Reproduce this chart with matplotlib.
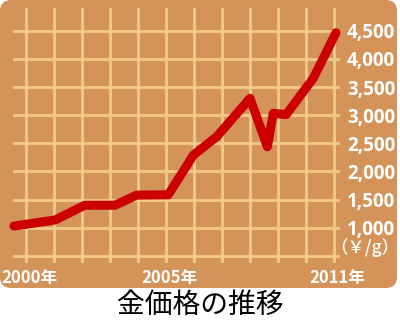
import matplotlib
matplotlib.use("Agg")
import matplotlib.pyplot as plt
from matplotlib.patches import FancyBboxPatch
from matplotlib.transforms import ScaledTranslation

# gold price (yen per gram)
years = [1999.57, 2001.04, 2002.10, 2003.18, 2003.95, 2005.08, 2005.98,
         2006.81, 2008.00, 2008.62, 2008.83, 2009.29, 2010.26, 2011.07]
prices = [1030, 1137, 1400, 1400, 1580, 1585, 2292,
          2617, 3299, 2439, 3033, 3010, 3655, 4465]

grid_years = list(range(2000, 2012))
year_labels = {2000: "2000年", 2005: "2005年", 2011: "2011年"}
price_ticks = [500, 1000, 1500, 2000, 2500, 3000, 3500, 4000, 4500]
title = "金価格の推移"
unit = "（￥/g）"

BG = "#D49459"
GRID = "#F2CB8A"
RED = "#CC0000"

fig = plt.figure(figsize=(4.0, 3.22), dpi=100)

panel = FancyBboxPatch((0.0, 0.34), 3.97, 2.88,
                       boxstyle="round,pad=0,rounding_size=0.11",
                       transform=fig.dpi_scale_trans, facecolor=BG,
                       edgecolor="none", zorder=-10)
fig.patches.append(panel)

ax = fig.add_axes([0.0325, 0.1832, 0.8175, 0.7919])
ax.patch.set_visible(False)
for s in ax.spines.values():
    s.set_visible(False)

ax.set_xlim(1999.536, 2011.214)
ax.set_ylim(373, 4904)

ax.yaxis.tick_right()
ax.tick_params(axis="both", length=0)
ax.tick_params(axis="y", pad=5)
ax.tick_params(axis="x", pad=4)

ax.set_xticks(grid_years)
ax.set_xticklabels([year_labels.get(y, "") for y in grid_years],
                   family=["Liberation Sans Narrow", "Noto Sans CJK JP"],
                   fontsize=12, fontweight="bold", color="white")
# labels sit a little right of their grid line
shift = ScaledTranslation(3 / 100, 0, fig.dpi_scale_trans)
for lab in ax.get_xticklabels():
    lab.set_transform(lab.get_transform() + shift)

ax.set_yticks(price_ticks)
ax.set_yticklabels(["" if p == 500 else f"{p:,}" for p in price_ticks],
                   family=["Open Sans", "DejaVu Sans"], fontsize=13.5,
                   fontweight="bold", color="white")

ax.grid(True, color=GRID, linewidth=2.0, zorder=1)
ax.set_axisbelow(True)

ax.plot(years, prices, color=RED, linewidth=6.5, solid_capstyle="round",
        solid_joinstyle="round", clip_on=False, zorder=3)

fig.text(399 / 400, 1 - 248 / 322, unit, ha="right", va="center",
         color="white", fontsize=12.5, fontweight="medium",
         family=["Noto Sans CJK JP", "DejaVu Sans"])

fig.text(0.5, 1 - 305 / 322, title, ha="center", va="center", color="black",
         fontsize=20, family=["Noto Sans CJK JP", "DejaVu Sans"])

fig.savefig("out.png", dpi=100)
